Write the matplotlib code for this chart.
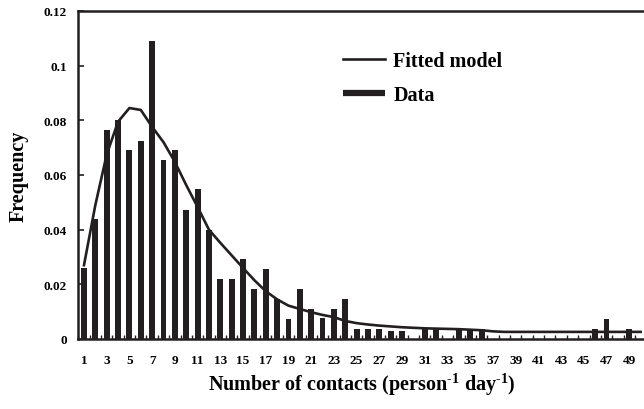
import matplotlib
matplotlib.use("Agg")
import matplotlib.pyplot as plt
from matplotlib.lines import Line2D
import numpy as np

plt.rcParams['font.family'] = ['Liberation Serif', 'DejaVu Serif']
plt.rcParams['font.weight'] = 'bold'
plt.rcParams['mathtext.fontset'] = 'custom'
plt.rcParams['mathtext.rm'] = 'Liberation Serif:bold'
plt.rcParams['mathtext.bf'] = 'Liberation Serif:bold'
plt.rcParams['mathtext.it'] = 'Liberation Serif:bold'

contacts = list(range(1, 51))
data_freq = [0.026, 0.044, 0.0765, 0.080, 0.069, 0.0725, 0.109, 0.0655, 0.069, 0.0473,
             0.0547, 0.040, 0.0219, 0.0219, 0.0291, 0.0183, 0.0257, 0.0147, 0.0075, 0.0183,
             0.011, 0.0076, 0.011, 0.0147, 0.0037, 0.0037, 0.0037, 0.003, 0.003, 0.0,
             0.0037, 0.0037, 0.0, 0.0037, 0.0037, 0.0037, 0.0, 0.0, 0.0, 0.0,
             0.0, 0.0, 0.0, 0.0, 0.0, 0.0037, 0.0073, 0.0, 0.0037, 0.0]
fitted = [0.027, 0.049, 0.0675, 0.0795, 0.0845, 0.0838, 0.0776, 0.072, 0.0648, 0.0563,
          0.0483, 0.040, 0.0352, 0.0306, 0.026, 0.0215, 0.0175, 0.0145, 0.0122, 0.011,
          0.0098, 0.0088, 0.008, 0.0066, 0.0058, 0.0053, 0.0049, 0.0046, 0.0043, 0.0041,
          0.0039, 0.0038, 0.0037, 0.0036, 0.0034, 0.0032, 0.0028, 0.0026, 0.0026, 0.0026,
          0.0026, 0.0026, 0.0026, 0.0026, 0.0026, 0.0026, 0.0026, 0.0026, 0.0026, 0.0026]
xtick_labels = [str(v) for v in range(1, 50, 2)]
ytick_vals = [0, 0.02, 0.04, 0.06, 0.08, 0.1, 0.12]
ytick_labels = ['0', '0.02', '0.04', '0.06', '0.08', '0.1', '0.12']

col = '#231f20'
W, H = 644, 410
fig = plt.figure(figsize=(W / 100, H / 100), dpi=100)
ax = fig.add_axes([78.3 / W, 1 - 340 / H, (646.3 - 78.3) / W, (340 - 12) / H])

ax.bar(contacts, data_freq, width=0.52, color=col, zorder=2)
ax.plot(contacts, fitted, color=col, lw=1.9, zorder=3)

ax.set_xlim(0.5, 50.5)
ax.set_ylim(0, 0.12)

ax.set_xticks(list(range(1, 50, 2)))
ax.set_xticklabels(xtick_labels, fontsize=9.5, fontweight='bold')
ax.set_xticks(np.arange(0.5, 51, 1.0), minor=True)
ax.tick_params(axis='x', which='major', length=0, pad=11)
ax.tick_params(axis='x', which='minor', direction='in', length=3, width=1.0, color=col)
ax.set_yticks(ytick_vals)
ax.set_yticklabels(ytick_labels, fontsize=9.5, fontweight='bold')
ax.tick_params(axis='y', direction='in', length=4, width=1.2, pad=8, color=col)

for s in ['left', 'bottom', 'top']:
    ax.spines[s].set_linewidth(1.8)
    ax.spines[s].set_color(col)
ax.spines['right'].set_visible(False)

fig.text(19 / W, 1 - 176 / H, 'Frequency', rotation=90, ha='center', va='center',
         fontsize=14.5, fontweight='bold')
fig.text(362 / W, 1 - 385 / H, r'Number of contacts (person$^{\text{-1}}$ day$^{\text{-1}}$)',
         ha='center', va='center', fontsize=14.5, fontweight='bold')

handles = [Line2D([], [], color=col, lw=1.9),
           Line2D([], [], color=col, lw=4.5, solid_capstyle='butt')]
leg = fig.legend(handles, ['Fitted model', 'Data'], loc='upper left',
                 bbox_to_anchor=(343 / W, 1 - 52 / H), frameon=False,
                 handlelength=2.1, handletextpad=0.4,
                 labelspacing=0.7, borderpad=0, borderaxespad=0,
                 prop={'weight': 'bold', 'size': 14.5})

fig.savefig('out.png', dpi=100)
